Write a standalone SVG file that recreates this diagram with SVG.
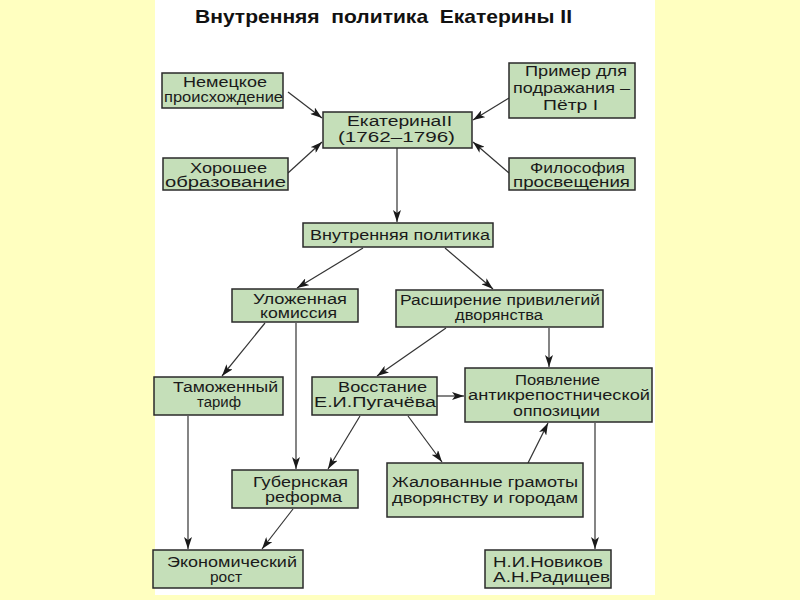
<svg xmlns="http://www.w3.org/2000/svg" width="800" height="600" viewBox="0 0 800 600">
<defs>
<marker id="ah" viewBox="0 0 12 8" refX="12" refY="4" markerWidth="12" markerHeight="8" markerUnits="userSpaceOnUse" orient="auto">
<path d="M0,0 L12,4 L0,8 L3,4 Z" fill="#1a1a1a"/>
</marker>
<style>
.b{fill:#c5dfb9;stroke:#2a2a2a;stroke-width:1.5}
.t{font-family:"Liberation Sans",Arial,sans-serif;font-size:15.5px;fill:#1a1a1a}
.c line{stroke:#333;stroke-width:1.2;marker-end:url(#ah)}
</style>
</defs>
<rect x="0" y="0" width="800" height="600" fill="#ffffc0"/>
<rect x="155" y="0" width="500" height="595" fill="#ffffff"/>
<text x="195" y="23" textLength="377" lengthAdjust="spacingAndGlyphs" font-family="'Liberation Sans',Arial,sans-serif" font-size="19" font-weight="bold" fill="#111" xml:space="preserve">Внутренняя  политика  Екатерины II</text>

<g class="c" id="connectors">
<line x1="288" y1="92" x2="322" y2="118"/>
<line x1="288" y1="173" x2="322" y2="142"/>
<line x1="509" y1="98" x2="473" y2="120"/>
<line x1="509" y1="173" x2="473" y2="142"/>
<line x1="397" y1="148" x2="397" y2="222"/>
<line x1="363" y1="248" x2="297" y2="288"/>
<line x1="445" y1="248" x2="493" y2="289"/>
<line x1="265" y1="323" x2="222" y2="376"/>
<line x1="296" y1="323" x2="296" y2="469"/>
<line x1="446" y1="328" x2="377" y2="376"/>
<line x1="549" y1="328" x2="549" y2="367"/>
<line x1="437" y1="396" x2="464" y2="396"/>
<line x1="188" y1="416" x2="188" y2="549"/>
<line x1="360" y1="416" x2="328" y2="469"/>
<line x1="408" y1="416" x2="442" y2="462"/>
<line x1="528" y1="463" x2="548" y2="423"/>
<line x1="293" y1="509" x2="262" y2="549"/>
<line x1="595" y1="423" x2="595" y2="549"/>
</g>

<g id="n1"><rect class="b" x="162" y="73" width="121" height="35"/><text class="t" x="183" y="87" textLength="84" lengthAdjust="spacingAndGlyphs">Немецкое</text><text class="t" x="164" y="102" textLength="119" lengthAdjust="spacingAndGlyphs">происхождение</text></g>
<g id="n2"><rect class="b" x="323" y="112" width="149" height="36"/><text class="t" x="347" y="126" textLength="105" lengthAdjust="spacingAndGlyphs">ЕкатеринаII</text><text class="t" x="338" y="142" textLength="117" lengthAdjust="spacingAndGlyphs">(1762–1796)</text></g>
<g id="n3"><rect class="b" x="163" y="158" width="125" height="32"/><text class="t" x="190" y="173" textLength="77" lengthAdjust="spacingAndGlyphs">Хорошее</text><text class="t" x="165" y="187" textLength="121" lengthAdjust="spacingAndGlyphs">образование</text></g>
<g id="n4"><rect class="b" x="509" y="63" width="126" height="55"/><text class="t" x="525" y="76" textLength="102" lengthAdjust="spacingAndGlyphs">Пример для</text><text class="t" x="513" y="93" textLength="117" lengthAdjust="spacingAndGlyphs">подражания –</text><text class="t" x="543" y="110" textLength="55" lengthAdjust="spacingAndGlyphs">Пётр I</text></g>
<g id="n5"><rect class="b" x="509" y="158" width="126" height="32"/><text class="t" x="530" y="173" textLength="95" lengthAdjust="spacingAndGlyphs">Философия</text><text class="t" x="513" y="187" textLength="117" lengthAdjust="spacingAndGlyphs">просвещения</text></g>
<g id="n6"><rect class="b" x="303" y="223" width="190" height="24"/><text class="t" x="310" y="240" textLength="180" lengthAdjust="spacingAndGlyphs">Внутренняя политика</text></g>
<g id="n7"><rect class="b" x="232" y="289" width="126" height="33"/><text class="t" x="253" y="304" textLength="94" lengthAdjust="spacingAndGlyphs">Уложенная</text><text class="t" x="260" y="318" textLength="77" lengthAdjust="spacingAndGlyphs">комиссия</text></g>
<g id="n8"><rect class="b" x="396" y="290" width="207" height="37"/><text class="t" x="400" y="305" textLength="200" lengthAdjust="spacingAndGlyphs">Расширение привилегий</text><text class="t" x="455" y="320" textLength="88" lengthAdjust="spacingAndGlyphs">дворянства</text></g>
<g id="n9"><rect class="b" x="154" y="377" width="129" height="38"/><text class="t" x="173" y="392" textLength="105" lengthAdjust="spacingAndGlyphs">Таможенный</text><text class="t" x="197" y="407" textLength="44" lengthAdjust="spacingAndGlyphs">тариф</text></g>
<g id="n10"><rect class="b" x="312" y="377" width="125" height="38"/><text class="t" x="338" y="392" textLength="89" lengthAdjust="spacingAndGlyphs">Восстание</text><text class="t" x="314" y="407" textLength="122" lengthAdjust="spacingAndGlyphs">Е.И.Пугачёва</text></g>
<g id="n11"><rect class="b" x="465" y="368" width="187" height="54"/><text class="t" x="515" y="385" textLength="85" lengthAdjust="spacingAndGlyphs">Появление</text><text class="t" x="468" y="400" textLength="182" lengthAdjust="spacingAndGlyphs">антикрепостнической</text><text class="t" x="513" y="416" textLength="87" lengthAdjust="spacingAndGlyphs">оппозиции</text></g>
<g id="n12"><rect class="b" x="232" y="470" width="126" height="38"/><text class="t" x="253" y="487" textLength="95" lengthAdjust="spacingAndGlyphs">Губернская</text><text class="t" x="265" y="502" textLength="77" lengthAdjust="spacingAndGlyphs">реформа</text></g>
<g id="n13"><rect class="b" x="387" y="463" width="196" height="54"/><text class="t" x="392" y="487" textLength="186" lengthAdjust="spacingAndGlyphs">Жалованные грамоты</text><text class="t" x="392" y="503" textLength="186" lengthAdjust="spacingAndGlyphs">дворянству и городам</text></g>
<g id="n14"><rect class="b" x="153" y="550" width="150" height="38"/><text class="t" x="167" y="567" textLength="130" lengthAdjust="spacingAndGlyphs">Экономический</text><text class="t" x="226" y="582" text-anchor="middle">рост</text></g>
<g id="n15"><rect class="b" x="485" y="550" width="126" height="38"/><text class="t" x="493" y="567" textLength="110" lengthAdjust="spacingAndGlyphs">Н.И.Новиков</text><text class="t" x="493" y="582" textLength="117" lengthAdjust="spacingAndGlyphs">А.Н.Радищев</text></g>
</svg>
